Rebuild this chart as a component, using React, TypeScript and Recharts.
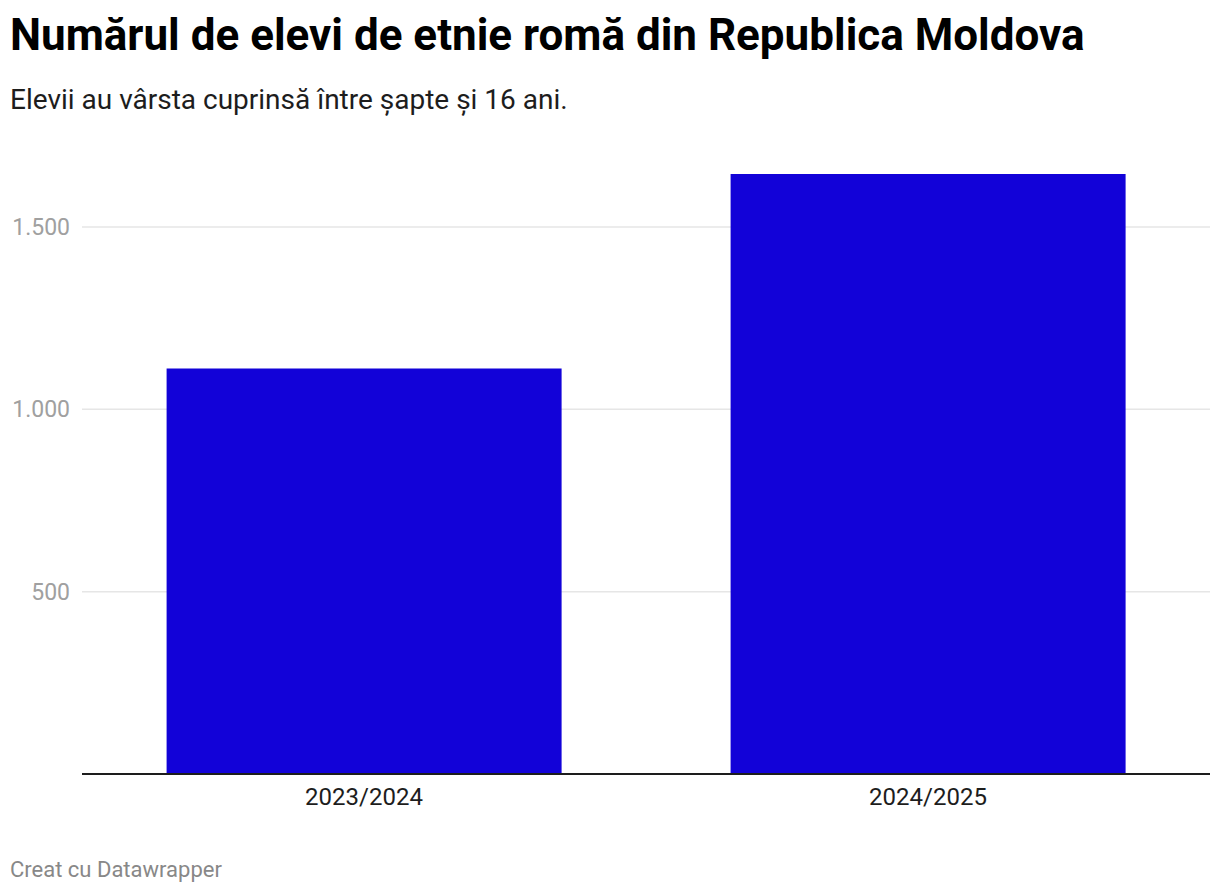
import React from 'react';
import { BarChart, Bar, XAxis, YAxis, CartesianGrid } from 'recharts';

const years = ['2023/2024', '2024/2025'];
const students = [1112, 1645];
const yTicks = [0, 500, 1000, 1500];

const data = years.map((year, i) => ({ year, students: students[i] }));

const fmt = (v: number) => (v === 0 ? '' : v.toLocaleString('de-DE'));

export default function App() {
  return (
    <div
      style={{
        position: 'absolute',
        left: 0,
        top: 0,
        width: 1220,
        height: 894,
        background: '#fff',
        fontFamily: 'Roboto, sans-serif',
      }}
    >
      <div style={{ position: 'absolute', left: 10, top: 9, fontSize: 44, fontWeight: 700, color: '#000', whiteSpace: 'nowrap' }}>
        Numărul de elevi de etnie romă din Republica Moldova
      </div>
      <div style={{ position: 'absolute', left: 10, top: 83, fontSize: 28, color: '#1d1d1d', whiteSpace: 'nowrap' }}>
        Elevii au vârsta cuprinsă între șapte și 16 ani.
      </div>
      <div style={{ position: 'absolute', left: 0, top: 130 }}>
        <BarChart
          width={1220}
          height={720}
          data={data}
          margin={{ top: 24, right: 10, bottom: 36, left: 0 }}
          barCategoryGap="15%"
        >
          <CartesianGrid vertical={false} stroke="#e6e6e6" strokeWidth={1.5} syncWithTicks />
          <XAxis
            dataKey="year"
            height={40}
            axisLine={{ stroke: '#1d1d1d', strokeWidth: 1.8 }}
            tickLine={false}
            tickSize={0}
            tickMargin={14}
            tick={{ fill: '#1d1d1d', fontSize: 24 }}
          />
          <YAxis
            width={82}
            domain={[0, 1700]}
            ticks={yTicks}
            tickFormatter={fmt}
            axisLine={false}
            tickLine={false}
            tickSize={0}
            tickMargin={12}
            tick={{ fill: '#a0a0a0', fontSize: 23 }}
          />
          <Bar dataKey="students" fill="#1202D8" isAnimationActive={false} />
        </BarChart>
      </div>
      <div style={{ position: 'absolute', left: 10, top: 857, fontSize: 22, color: '#888', whiteSpace: 'nowrap' }}>
        Creat cu Datawrapper
      </div>
    </div>
  );
}
